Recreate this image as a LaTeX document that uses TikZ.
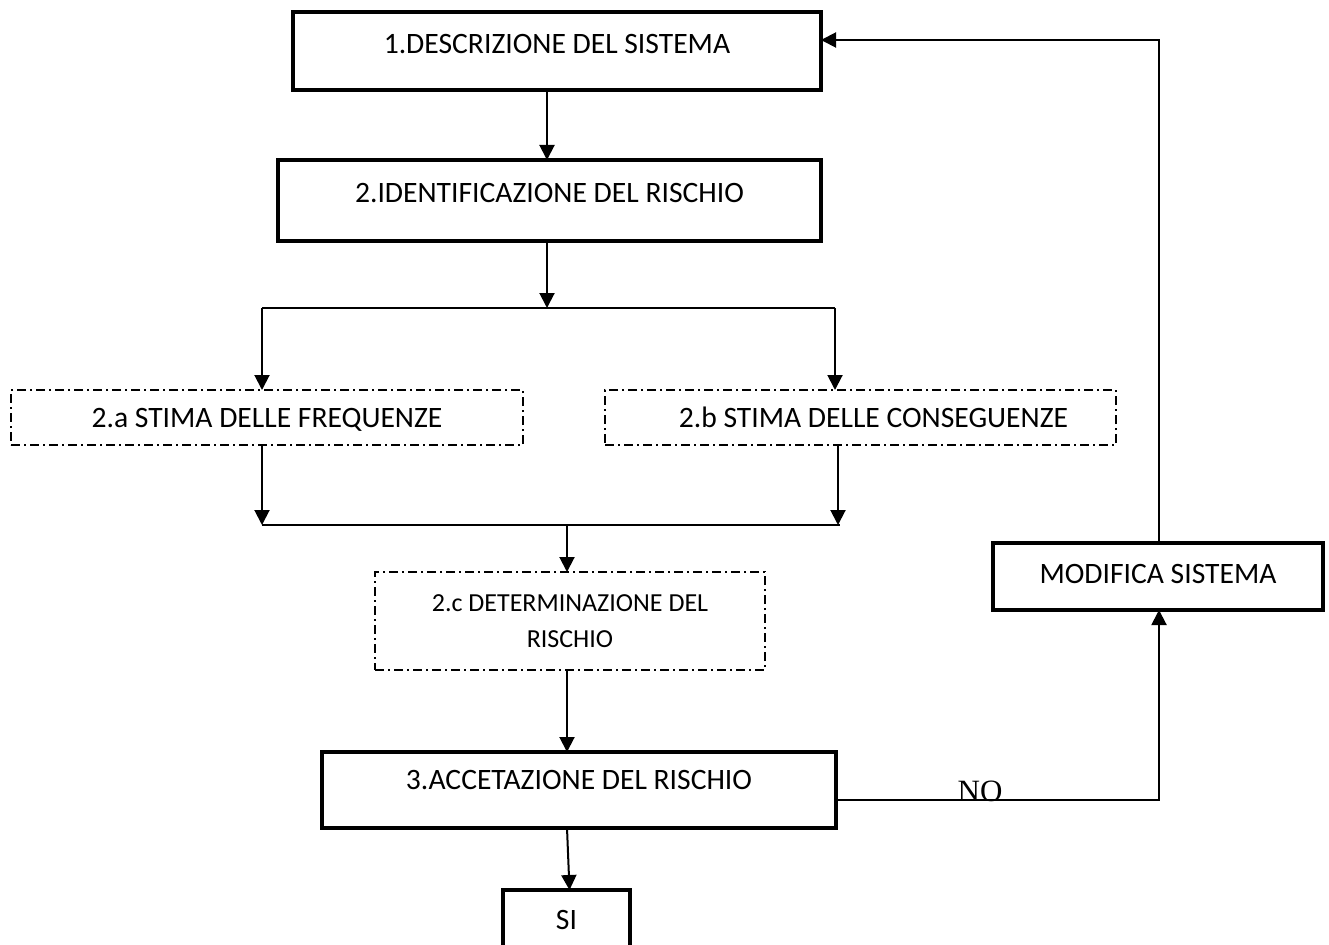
\documentclass[tikz,border=0pt]{standalone}
\usepackage{fontspec}
\setmainfont{Carlito}
\newfontfamily\timesfont{Liberation Serif}
\usetikzlibrary{arrows.meta,calc}
\begin{document}
\begin{tikzpicture}[x=1pt,y=-1pt,
  solidbox/.style={draw,line width=3.2pt,inner xsep=0pt,inner ysep=0pt,outer sep=0pt,anchor=north west,font=\fontsize{29.6}{34}\selectfont},
  dotbox/.style={draw,line width=1.8pt,dash pattern=on 9pt off 4pt on 2pt off 4pt,inner xsep=0pt,inner ysep=0pt,outer sep=0pt,anchor=north west},
  conn/.style={line width=2pt},
  arr/.style={conn,-{Triangle[length=15pt,width=15pt]}}]
\useasboundingbox (0,0) rectangle (1329,944);
\fill[white] (0,0) rectangle (1329,944);
% boxes
\node[solidbox,minimum width=528pt,text height=41.5pt,text depth=36.5pt] (b1) at (293,12) {1.DESCRIZIONE DEL SISTEMA};
\node[solidbox,minimum width=543pt,text height=42.5pt,text depth=38.5pt] (b2) at (278,160) {2.IDENTIFICAZIONE DEL RISCHIO};
\node[dotbox,minimum width=512pt,text height=37.5pt,text depth=17.5pt,font=\fontsize{29.6}{34}\selectfont] (b2a) at (11,390) {2.a STIMA DELLE FREQUENZE};
\node[dotbox,minimum width=511pt,text height=37.5pt,text depth=17.5pt,font=\fontsize{29.6}{34}\selectfont] (b2b) at (605,390) {\hspace*{26pt}2.b STIMA DELLE CONSEGUENZE};
\node[dotbox,minimum width=390pt,minimum height=98pt,align=center,font=\fontsize{26}{36}\selectfont] (b2c) at (375,572) {2.c DETERMINAZIONE DEL\\RISCHIO};
\node[solidbox,minimum width=514pt,text height=37.5pt,text depth=38.5pt] (b3) at (322,752) {3.ACCETAZIONE DEL RISCHIO};
\node[solidbox,minimum width=330pt,text height=40.5pt,text depth=26.5pt] (bm) at (993,543) {MODIFICA SISTEMA};
\node[solidbox,minimum width=127pt,text height=39.5pt,text depth=40.5pt] (bs) at (503,890) {SI};
% junctions
\coordinate (j1) at (547,308);
\coordinate (jl) at (262,308);
\coordinate (jr) at (835,308);
\coordinate (k1) at (567,525);
\coordinate (kl) at (262,525);
\coordinate (kr) at (838,525);
\coordinate (n1) at (1159,800);
\coordinate (m1) at (1159,40);
% connectors
\draw[arr] (b1.south -| j1) -- (b2.north -| j1);
\draw[arr] (b2.south -| j1) -- (j1);
\draw[conn] (jl) -- (jr);
\draw[arr] (jl) -- (b2a.north -| jl);
\draw[arr] (jr) -- (b2b.north -| jr);
\draw[arr] (b2a.south -| kl) -- (kl);
\draw[arr] (b2b.south -| kr) -- (kr);
\draw[conn] (kl) -- ($(kr)+(2,0)$);
\draw[arr] (k1) -- (b2c.north -| k1);
\draw[arr] (b2c.south -| k1) -- (b3.north -| k1);
\draw[arr] (b3.east |- n1) -- (n1) -- (bm.south -| n1);
\draw[arr] (bm.north -| m1) -- (m1) -- (b1.east |- m1);
\draw[arr] (b3.south -| k1) -- ([xshift=3pt]bs.north);
\node[anchor=base,inner sep=0pt,font=\timesfont\fontsize{31}{34}\selectfont] (no) at (980,801) {NO};
\end{tikzpicture}
\end{document}
